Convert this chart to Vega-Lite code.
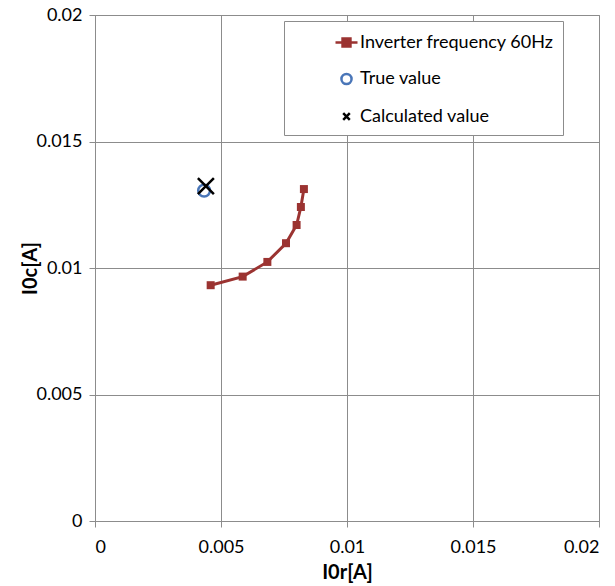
{
  "$schema": "https://vega.github.io/schema/vega-lite/v6.json",
  "width": 504,
  "height": 506,
  "autosize": {"type": "none"},
  "padding": {"left": 95, "top": 15, "right": 16, "bottom": 65},
  "background": "white",
  "config": {
    "font": "Lato",
    "view": {"stroke": "#8c8c8c", "strokeWidth": 1},
    "axis": {
      "gridColor": "#8c8c8c",
      "gridWidth": 1,
      "gridOpacity": 1,
      "domainColor": "#8c8c8c",
      "tickColor": "#8c8c8c",
      "tickSize": 6,
      "labelFontSize": 18,
      "labelColor": "black",
      "labelFont": "Lato",
      "titleFont": "Lato",
      "titleFontSize": 20,
      "titleFontWeight": "bold",
      "titleColor": "black"
    }
  },
  "data": {
    "values": [
      {"x": 0.00459, "y": 0.00932, "series": "Inverter frequency 60Hz"},
      {"x": 0.00586, "y": 0.00966, "series": "Inverter frequency 60Hz"},
      {"x": 0.00684, "y": 0.01024, "series": "Inverter frequency 60Hz"},
      {"x": 0.00758, "y": 0.01098, "series": "Inverter frequency 60Hz"},
      {"x": 0.00800, "y": 0.01170, "series": "Inverter frequency 60Hz"},
      {"x": 0.00817, "y": 0.01241, "series": "Inverter frequency 60Hz"},
      {"x": 0.00829, "y": 0.01312, "series": "Inverter frequency 60Hz"},
      {"x": 0.00433, "y": 0.01306, "series": "True value"},
      {"x": 0.00440, "y": 0.01324, "series": "Calculated value"}
    ]
  },
  "encoding": {
    "x": {
      "field": "x", "type": "quantitative",
      "scale": {"domain": [0, 0.02], "nice": false, "zero": false},
      "axis": {"values": [0, 0.005, 0.01, 0.015, 0.02], "labelExpr": "format(datum.value, '~g')", "title": "I0r[A]", "labelPadding": 11, "titlePadding": 6}
    },
    "y": {
      "field": "y", "type": "quantitative",
      "scale": {"domain": [0, 0.02], "nice": false, "zero": false},
      "axis": {"values": [0, 0.005, 0.01, 0.015, 0.02], "labelExpr": "format(datum.value, '~g')", "title": "I0c[A]", "labelPadding": 7, "titleX": -55}
    }
  },
  "layer": [
    {
      "transform": [{"filter": "datum.series == 'Inverter frequency 60Hz'"}],
      "mark": {"type": "line", "color": "#9b3331", "strokeWidth": 3}
    },
    {
      "transform": [{"filter": "datum.series == 'Inverter frequency 60Hz'"}],
      "mark": {"type": "point", "shape": "square", "filled": true, "color": "#9b3331", "size": 64, "opacity": 1}
    },
    {
      "transform": [{"filter": "datum.series == 'True value'"}],
      "mark": {"type": "point", "shape": "circle", "filled": false, "color": "#4a76b8", "strokeWidth": 2.5, "size": 140, "opacity": 1}
    },
    {
      "transform": [{"filter": "datum.series == 'Calculated value'"}],
      "mark": {"type": "point", "shape": "M-1,-1L1,1M-1,1L1,-1", "filled": false, "color": "black", "strokeWidth": 2.5, "size": 256, "opacity": 1}
    },
    {
      "transform": [{"filter": "false"}],
      "mark": {"type": "point", "opacity": 1},
      "encoding": {
        "shape": {
          "field": "series", "type": "nominal",
          "scale": {
            "domain": ["Inverter frequency 60Hz", "True value", "Calculated value"],
            "range": ["M-1,0H1M-0.36,-0.36H0.36V0.36H-0.36Z", "M0.46,0A0.46,0.46 0 1,1 -0.46,0A0.46,0.46 0 1,1 0.46,0Z", "M-0.3,-0.3L0.3,0.3M-0.3,0.3L0.3,-0.3"]
          },
          "legend": {
            "orient": "none",
            "legendX": 189,
            "legendY": 6,
            "title": null,
            "labelExpr": "datum.label + '\u2003\u2002'",
            "fillColor": "white",
            "strokeColor": "#8c8c8c",
            "padding": 9,
            "symbolOffset": 41,
            "symbolSize": 484,
            "symbolStrokeWidth": 2.5,
            "labelFontSize": 18,
            "labelFont": "Lato",
            "labelColor": "black",
            "labelOffset": 1,
            "rowPadding": 14.5,
            "labelLimit": 400
          }
        },
        "fill": {
          "field": "series", "type": "nominal",
          "scale": {"domain": ["Inverter frequency 60Hz", "True value", "Calculated value"], "range": ["#9b3331", "transparent", "transparent"]}
        },
        "stroke": {
          "field": "series", "type": "nominal",
          "scale": {"domain": ["Inverter frequency 60Hz", "True value", "Calculated value"], "range": ["#9b3331", "#4a76b8", "black"]}
        }
      }
    }
  ]
}
